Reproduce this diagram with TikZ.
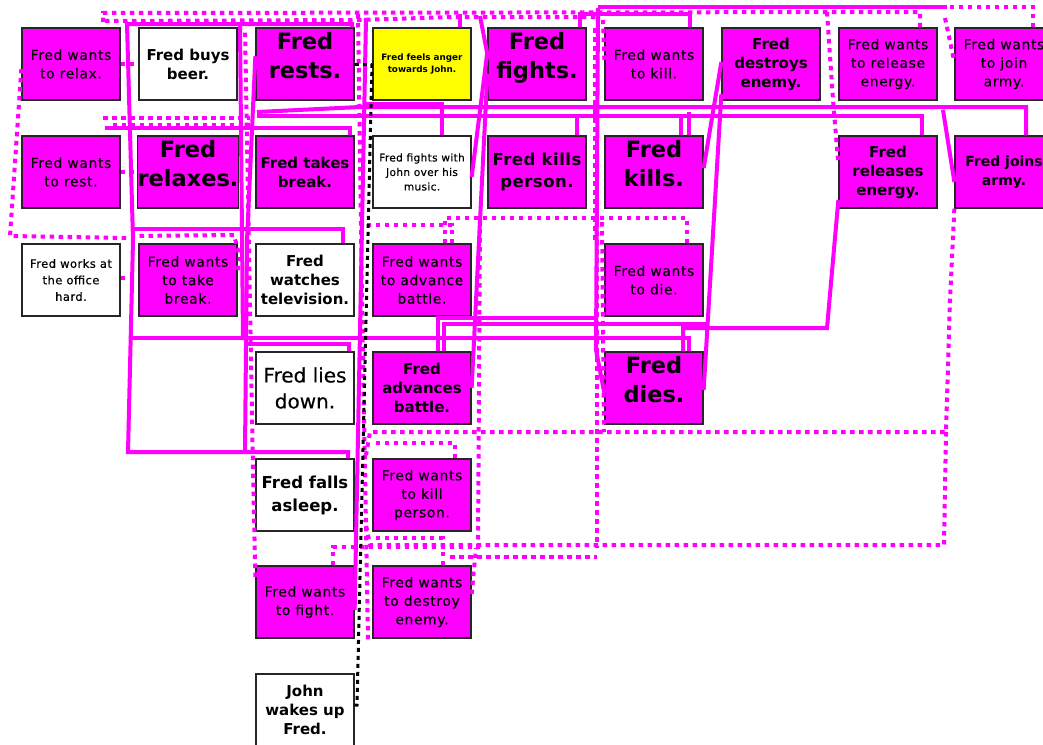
\documentclass[tikz,border=0pt]{standalone}
\usepackage{fontspec}
\setmainfont{DejaVu Sans}
\usetikzlibrary{calc}
\definecolor{mag}{HTML}{FF00FF}
\definecolor{yel}{HTML}{FFFF00}
\begin{document}
\begin{tikzpicture}[x=1pt,y=-1pt,
 box/.style={rectangle,draw=black!85,line width=1.3pt,minimum width=98pt,minimum height=72pt,inner sep=0pt,align=center,fill=mag},
 wbox/.style={box,fill=white},
 ybox/.style={box,fill=yel},
 fw/.style={font=\fontsize{13.8}{18.5}\selectfont\addfontfeatures{LetterSpace=5,FakeBold=0.4}},
 fb/.style={font=\bfseries\fontsize{15}{19}\selectfont},
 fbig/.style={font=\bfseries\fontsize{22.5}{29}\selectfont,text depth=18pt},
 fmed/.style={font=\bfseries\fontsize{16.5}{22}\selectfont\addfontfeatures{LetterSpace=3}},
 sl/.style={draw=mag,line width=4pt,line join=miter},
 dl/.style={draw=mag,line width=4pt,dash pattern=on 4.5pt off 4.5pt},
 bl/.style={draw=black,line width=3pt,dash pattern=on 4pt off 4pt}]
\useasboundingbox[fill=white] (0,0) rectangle (1043,744);
% row 1
\node[box,fw] (wrelax) at (71,64) {Fred wants\\to relax.};
\node[wbox,fb] (beer) at (188,64) {Fred buys\\beer.};
\node[box,fbig] (rests) at (305,64) {Fred\\rests.};
\node[ybox,font=\bfseries\fontsize{8.8}{12.5}\selectfont] (anger) at (422,64) {Fred feels anger\\towards John.};
\node[box,fbig] (fights) at (537,64) {Fred\\fights.};
\node[box,fw] (wkill) at (654,64) {Fred wants\\to kill.};
\node[box,fb] (destroys) at (771,64) {Fred\\destroys\\enemy.};
\node[box,fw] (wrelease) at (888,64) {Fred wants\\to release\\energy.};
\node[box,fw] (wjoin) at (1004,64) {Fred wants\\to join\\army.};
% row 2
\node[box,fw] (wrest) at (71,172) {Fred wants\\to rest.};
\node[box,fbig] (relaxes) at (188,172) {Fred\\relaxes.};
\node[box,fb] (takes) at (305,172) {Fred takes\\break.};
\node[wbox,font=\fontsize{10.6}{14.5}\selectfont\addfontfeatures{LetterSpace=3,FakeBold=0.4}] (fjohn) at (422,172) {Fred fights with\\John over his\\music.};
\node[box,fmed] (kperson) at (537,172) {Fred kills\\person.};
\node[box,fbig] (kills) at (654,172) {Fred\\kills.};
\node[box,fb] (releases) at (888,172) {Fred\\releases\\energy.};
\node[box,font=\bfseries\fontsize{14}{19}\selectfont] (joins) at (1004,172) {Fred joins\\army.};
% row 3
\node[wbox,font=\fontsize{11.5}{16.5}\selectfont\addfontfeatures{LetterSpace=4,FakeBold=0.4}] (works) at (71,280) {Fred works at\\the office\\hard.};
\node[box,fw] (wbreak) at (188,280) {Fred wants\\to take\\break.};
\node[wbox,fb] (tv) at (305,280) {Fred\\watches\\television.};
\node[box,fw] (wadvance) at (422,280) {Fred wants\\to advance\\battle.};
\node[box,fw] (wdie) at (654,280) {Fred wants\\to die.};
% row 4
\node[wbox,font=\fontsize{20}{26}\selectfont\addfontfeatures{FakeBold=0.3}] (lies) at (305,388) {Fred lies\\down.};
\node[box,fb] (advances) at (422,388) {Fred\\advances\\battle.};
\node[box,fbig] (dies) at (654,388) {Fred\\dies.};
% row 5
\node[wbox,font=\bfseries\fontsize{16.5}{23}\selectfont] (asleep) at (305,495) {Fred falls\\asleep.};
\node[box,fw] (wkperson) at (422,495) {Fred wants\\to kill\\person.};
% row 6
\node[box,fw] (wfight) at (305,602) {Fred wants\\to fight.};
\node[box,fw] (wdestroy) at (422,602) {Fred wants\\to destroy\\enemy.};
% row 7
\node[wbox,fb] (john) at (305,710) {John\\wakes up\\Fred.};

% solid connectors
\draw[sl] (asleep.north -| 348,0) -- (348,452) -- (128,452) -- (133,240) -- (127,24) -- (352,24) -- (rests.north -| 352,0);
\draw[sl] (tv.north -| 343,0) -- (343,229) -- (131,229);
\draw[sl] (dies.north -| 689,0) -- (689,338) -- (130,338);
\draw[sl] (lies.north -| 349,0) -- (349,344) -- (245,344);
\draw[sl] ([yshift=8pt]rests.west) -- (247,240) -- (245,452);
\draw[sl] (240,26) -- (243,340);
\draw[sl] (takes.north -| 350,0) -- (350,128) -- (105,128);
\draw[sl] (joins.north -| 1026,0) -- (1026,107) -- (360,107) -- (257,112);
\draw[sl] (releases.north -| 922,0) -- (922,116) -- (257,116);
\draw[sl] (fjohn.north -| 442,0) -- (442,104) -- (366,104);
\draw[sl] (kperson.north -| 577,0) -- (577,116);
\draw[sl] (kills.north -| 681,0) -- (681,116);
\draw[sl] (kills.north -| 689,0) -- (689,112);
\draw[sl] ([yshift=12pt]fights.west) -- ([yshift=-5pt]fjohn.east);
\draw[sl] (480,16) -- ([yshift=10pt]fights.west);
\draw[sl] ([yshift=-10pt]fights.west) -- (advances.east);
\draw[sl] ([yshift=4pt]kills.east) -- ([yshift=2pt]destroys.west);
\draw[sl] ([yshift=-30pt]destroys.west) -- ([yshift=-2pt]dies.east);
\draw[sl] ([yshift=-28pt]releases.west) -- (827,328) -- (683,328) -- (dies.north -| 683,0);
\draw[sl] (943,110) -- ([yshift=-10pt]joins.west);
\draw[sl] (advances.north -| 438,0) -- (438,318) -- (596,318);
\draw[sl] (advances.north -| 444,0) -- (444,324) -- (708,324);
\draw[sl] (598,8) -- (596,350) -- ([yshift=-5pt]dies.west);
\draw[sl] (fights.north -| 580,0) -- (580,14) -- (598,14);
\draw[sl] (wkill.north -| 690,0) -- (690,14) -- (598,14);
\draw[sl] (947,7) -- (598,7);
\draw[sl] (anger.north -| 460,0) -- (460,14);
\draw[sl] ([yshift=-8pt]wfight.east) -- (366,18);

% dotted connectors
\draw[dl] (wrelax.east) -- (beer.west);
\draw[dl] (wrest.east) -- (relaxes.west);
\draw[dl] ([yshift=2pt]works.east) -- ([yshift=2pt]wbreak.west);
\draw[dl] ([yshift=10pt]wbreak.east) -- (240,258) -- (234,235) -- (133,236);
\draw[dl] ([yshift=-5pt]wrelax.west) -- (10,236) -- (128,238);
\draw[dl] (wrelease.north -| 920,0) -- (920,12) -- (103,13) -- (103,26);
\draw[dl] (105,21) -- (358,20) -- (453,17) -- (600,17);
\draw[dl] (wjoin.north -| 1033,0) -- (1033,7) -- (947,7);
\draw[dl] (945,18) -- ([yshift=2pt]wjoin.west);
\draw[dl] (827,12) -- (833,100) -- ([yshift=8pt]releases.west);
\draw[dl] (103,118) -- (250,118);
\draw[dl,dash phase=4.5pt] (108,125) -- (250,125);
\draw[dl] ([yshift=25pt]wfight.west) -- (253,470) -- (247,140) -- (245,28);
\draw[dl] (wadvance.north -| 445,0) -- (445,218) -- (687,218) -- (wdie.north -| 687,0);
\draw[dl] (wadvance.north -| 452,0) -- (452,225) -- (365,225);
\draw[dl] (480,220) -- (478,548);
\draw[dl] (597,222) -- (597,548);
\draw[dl] (602,222) -- (604,432);
\draw[dl] (joins.south west) -- (950,300) -- (946,432) -- (370,432) -- (366,455);
\draw[dl] (946,432) -- (944,545) -- (370,545) -- (365,520);
\draw[dl] (450,557) -- (597,557);
\draw[dl] (wkperson.north -| 455,0) -- (455,443) -- (372,443);
\draw[dl] (wdestroy.north -| 443,0) -- (443,538) -- (372,538);
\draw[dl] (wfight.north -| 333,0) -- (333,547) -- (480,547);
\draw[dl] ([yshift=8pt]wdestroy.east) -- (476,548);
\draw[dl] (358,14) -- (362,300) -- (368,640);
\draw[dl] (595,28) -- (595,240);
\draw[dl] ([yshift=4pt]wkill.west) -- (603,20);

% black dotted
\draw[bl] (rests.east) -- (anger.west);
\draw[bl] (372,64) -- (357,705) -- ([yshift=5pt]john.east);
\end{tikzpicture}
\end{document}
